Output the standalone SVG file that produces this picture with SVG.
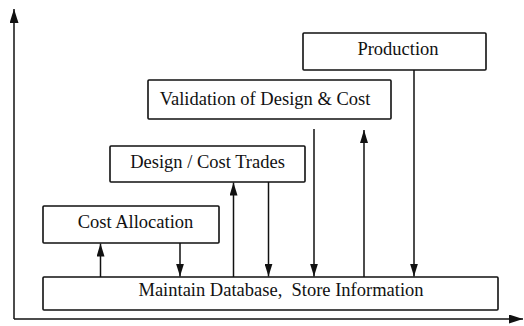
<svg xmlns="http://www.w3.org/2000/svg" width="524" height="326" viewBox="0 0 524 326">
<style>
.box{fill:#fff;stroke:#111;stroke-width:1.6}
.lbl{font-family:"Liberation Serif","Times New Roman",serif;font-size:18.5px;fill:#111;text-anchor:middle}
.ln{stroke:#111;stroke-width:1.5;fill:none;marker-end:url(#ah)}
</style>
<defs>
<marker id="ah" markerUnits="userSpaceOnUse" markerWidth="13" markerHeight="8" viewBox="0 0 13 8" refX="13" refY="4" orient="auto">
<path d="M0,0 L13,4 L0,8 Z" fill="#111"/>
</marker>
<marker id="ah2" markerUnits="userSpaceOnUse" markerWidth="14" markerHeight="9" viewBox="0 0 14 9" refX="14" refY="4.5" orient="auto">
<path d="M0,0 L14,4.5 L0,9 Z" fill="#111"/>
</marker>
</defs>
<g id="axes">
<line x1="14" y1="319" x2="14" y2="9" stroke="#111" stroke-width="1.5" marker-end="url(#ah2)"/>
<line x1="14" y1="319" x2="523" y2="319" stroke="#111" stroke-width="1.5" marker-end="url(#ah2)"/>
</g>
<g id="production">
<rect class="box" x="303" y="33" width="183" height="37" rx="1"/>
<text class="lbl" x="398" y="55">Production</text>
</g>
<g id="validation">
<rect class="box" x="148" y="80" width="243" height="39" rx="1"/>
<text class="lbl" x="265" y="105">Validation of Design &amp; Cost</text>
</g>
<g id="design-trades">
<rect class="box" x="110" y="146" width="195" height="36" rx="1"/>
<text class="lbl" x="207.5" y="168">Design / Cost Trades</text>
</g>
<g id="cost-allocation">
<rect class="box" x="43" y="206" width="176" height="37" rx="1"/>
<text class="lbl" x="135.5" y="228">Cost Allocation</text>
</g>
<g id="database">
<rect class="box" x="43" y="277" width="455" height="33" rx="1"/>
<text class="lbl" x="281" y="296" xml:space="preserve">Maintain Database,  Store Information</text>
</g>
<g id="connectors">
<line class="ln" x1="100.5" y1="277" x2="100.5" y2="243.5"/>
<line class="ln" x1="180" y1="243" x2="180" y2="276.5"/>
<line class="ln" x1="233.5" y1="277" x2="233.5" y2="182.5"/>
<line class="ln" x1="268.5" y1="182" x2="268.5" y2="276.5"/>
<line class="ln" x1="314" y1="129" x2="314" y2="276.5"/>
<line class="ln" x1="364" y1="277" x2="364" y2="130"/>
<line class="ln" x1="414" y1="70" x2="414" y2="276.5"/>
</g>
</svg>
